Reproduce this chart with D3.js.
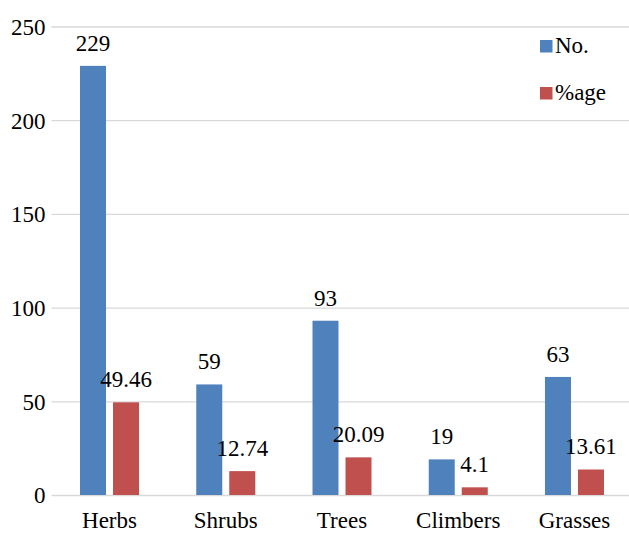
<!DOCTYPE html>
<html>
<head>
<meta charset="utf-8">
<script src="https://cdn.jsdelivr.net/npm/d3@7/dist/d3.min.js"></script>
<style>
  html, body { margin: 0; padding: 0; background: #fff; font-family: serif; }
  svg { display: block; }
</style>
</head>
<body>
<svg id="chart" width="629" height="533"></svg>
<script>
// Plant life-form counts and percentages
const categories = ["Herbs", "Shrubs", "Trees", "Climbers", "Grasses"];
const seriesNames = ["No.", "%age"];
const countValues = [229, 59, 93, 19, 63];
const percentValues = [49.46, 12.74, 20.09, 4.1, 13.61];
const countLabels = ["229", "59", "93", "19", "63"];
const percentLabels = ["49.46", "12.74", "20.09", "4.1", "13.61"];
const yTicks = [0, 50, 100, 150, 200, 250];
const colors = ["#4f81bd", "#c0504d"];

const FS = 23;

function label(sel) {
  return sel
    .attr("style", "font-family:'Times New Roman';font-size:" + FS + "px")
    .attr("fill", "#000");
}

const svg = d3.select("#chart");
const plot = { left: 51.4, right: 632.6, top: 26.5, bottom: 495 };

const x0 = d3.scaleBand()
  .domain(categories)
  .range([plot.left, plot.right])
  .paddingInner(0).paddingOuter(0);

const barW = 26, barGap = 7;
const groupW = barW * 2 + barGap;

const y = d3.scaleLinear().domain([0, 250]).range([plot.bottom, plot.top]);

// Gridlines and tick labels
const yAxis = d3.axisLeft(y).tickValues(yTicks).tickSize(-(629 - plot.left)).tickFormat(d3.format("d"));
const gy = svg.append("g").attr("transform", `translate(${plot.left},0)`).call(yAxis)
  .attr("font-family", "serif").attr("font-size", FS);
gy.select(".domain").remove();
gy.selectAll(".tick line").attr("stroke", "#d9d9d9").attr("stroke-width", 1.3);
label(gy.selectAll(".tick text").attr("x", -6).attr("dy", "0.34em"));

// Category labels
const xAxis = d3.axisBottom(x0).tickSize(0).tickPadding(0);
const gx = svg.append("g").attr("transform", `translate(0,${plot.bottom})`).call(xAxis)
  .attr("font-family", "serif").attr("font-size", FS);
gx.select(".domain").remove();
label(gx.selectAll(".tick text").attr("y", 33).attr("dy", 0));

// Bars with value labels
const seriesData = [
  { values: countValues, labels: countLabels },
  { values: percentValues, labels: percentLabels }
];

const groups = svg.append("g").selectAll("g")
  .data(categories)
  .join("g")
  .attr("transform", d => `translate(${x0(d) + (x0.bandwidth() - groupW) / 2},0)`);

groups.each(function (cat, i) {
  const g = d3.select(this);
  seriesData.forEach((s, k) => {
    const bx = k === 0 ? 0 : barW + barGap;
    g.append("rect")
      .attr("x", bx)
      .attr("y", y(s.values[i]))
      .attr("width", barW)
      .attr("height", y(0) - y(s.values[i]))
      .attr("fill", colors[k]);
    label(g.append("text")
      .attr("x", bx + barW / 2)
      .attr("y", y(s.values[i]) - 15)
      .attr("text-anchor", "middle"))
      .text(s.labels[i]);
  });
});

// Legend
const legend = svg.append("g");
seriesNames.forEach((name, k) => {
  const ly = 40 + k * 47;
  legend.append("rect")
    .attr("x", 540).attr("y", ly)
    .attr("width", 12.5).attr("height", 12.5)
    .attr("fill", colors[k]);
  label(legend.append("text")
    .attr("x", 555).attr("y", ly + 13))
    .text(name);
});
</script>
</body>
</html>
